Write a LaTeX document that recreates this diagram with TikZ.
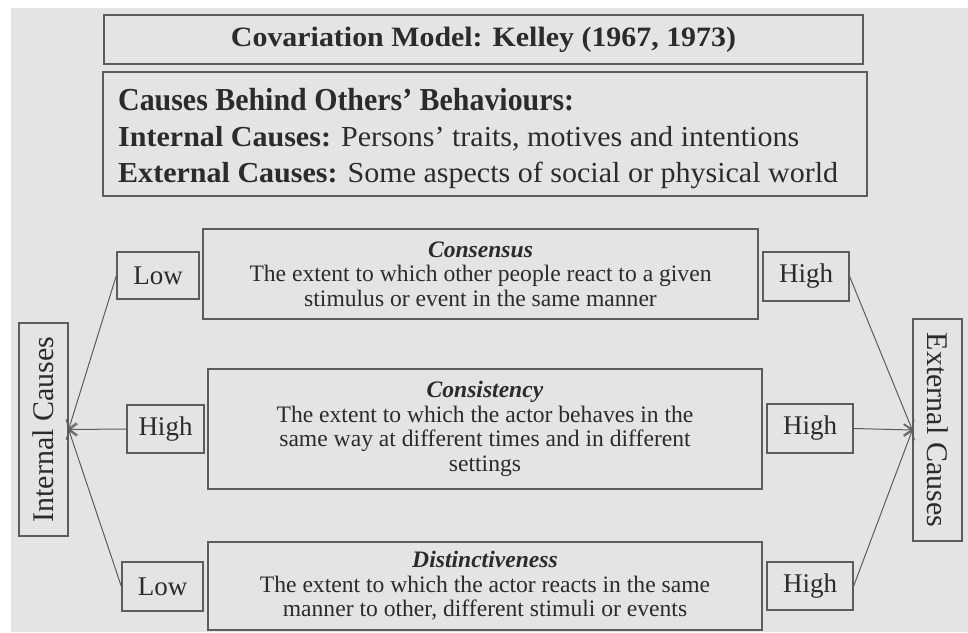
\documentclass[tikz,border=0pt]{standalone}
\usepackage{fontspec}
\setmainfont{Liberation Serif}
\usetikzlibrary{arrows.meta}
\definecolor{panel}{HTML}{E4E4E4}
\definecolor{ink}{HTML}{2B2B2B}
\definecolor{frame}{HTML}{5C5C5C}

\begin{document}
\begin{tikzpicture}[x=1pt,y=-1pt,
  box/.style={draw=frame, line width=1.3pt, inner sep=0pt, text=ink},
  desc/.style={box, align=center, font=\fontsize{23.6}{24.6}\selectfont},
  level/.style={box, font=\fontsize{27}{30}\selectfont},
  cause/.style={box, font=\fontsize{30}{34}\selectfont},
  textline/.style={anchor=base west, inner sep=0pt, text=ink},
  link/.style={draw=frame, line width=1pt, -{Straight Barb[length=8pt,width=11pt]}}]

% page and grey panel
\useasboundingbox (0,0) rectangle (968,632);
\fill[white] (0,0) rectangle (968,632);
\fill[panel] (11,8) rectangle (968,632);

% heading boxes
\node[box, minimum width=759pt, minimum height=49pt] (title) at (483.5,39.5)
  {\resizebox{505pt}{\height}{\fontsize{28}{32}\selectfont\bfseries Covariation Model: Kelley (1967, 1973)}};
\node[box, minimum width=764pt, minimum height=124pt] (causes) at (485,134) {};
\node[textline] (cline1) at (118,110)
  {\resizebox{456pt}{\height}{\fontsize{32}{36}\selectfont\bfseries Causes Behind Others’ Behaviours:}};
\node[textline] (cline2) at (118,146)
  {\resizebox{681pt}{\height}{\fontsize{29}{34}\selectfont\textbf{Internal Causes:} Persons’ traits, motives and intentions}};
\node[textline] (cline3) at (118,182)
  {\resizebox{720pt}{\height}{\fontsize{29}{34}\selectfont\textbf{External Causes:} Some aspects of social or physical world}};

% the three dimensions
\node[desc, minimum width=555pt, minimum height=90pt] (consensus) at (480.5,274)
  {\textbf{\textit{Consensus}}\\The extent to which other people react to a given\\stimulus or event in the same manner};
\node[desc, minimum width=554pt, minimum height=120pt] (consistency) at (485,429)
  {\textbf{\textit{Consistency}}\\The extent to which the actor behaves in the\\same way at different times and in different\\settings};
\node[desc, minimum width=554pt, minimum height=88pt] (distinct) at (485,586)
  {\textbf{\textit{Distinctiveness}}\\The extent to which the actor reacts in the same\\manner to other, different stimuli or events};

% levels
\node[level, minimum width=82pt, minimum height=47pt] (lowA) at (158,275.5) {Low};
\node[level, minimum width=86pt, minimum height=49pt] (highA) at (806,276.5) {High};
\node[level, minimum width=77pt, minimum height=48pt] (highBL) at (165.5,429) {High};
\node[level, minimum width=86pt, minimum height=49pt] (highBR) at (810,428.5) {High};
\node[level, minimum width=81pt, minimum height=49pt] (lowC) at (162.5,586.5) {Low};
\node[level, minimum width=86pt, minimum height=48pt] (highC) at (810,586) {High};

% attributions
\node[cause, rotate=90, minimum width=213pt, minimum height=49pt] (internal) at (43.5,429.5) {Internal Causes};
\node[cause, rotate=-90, minimum width=222pt, minimum height=49pt] (external) at (937.5,430) {External Causes};

% connectors
\draw[link] (lowA.west) -- (internal.south);
\draw[link] (highBL.west) -- (internal.south);
\draw[link] (lowC.west) -- (internal.south);
\draw[link] (highA.east) -- (external.south);
\draw[link] (highBR.east) -- (external.south);
\draw[link] (highC.east) -- (external.south);
\end{tikzpicture}
\end{document}
